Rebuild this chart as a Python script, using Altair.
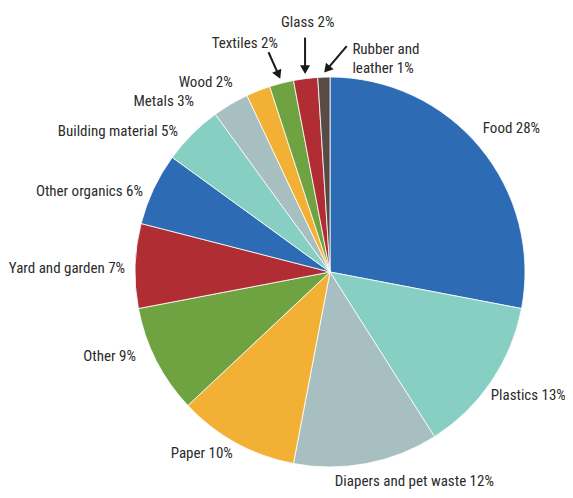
import math
import pandas as pd
import altair as alt

categories = ["Food", "Plastics", "Diapers and pet waste", "Paper", "Other",
              "Yard and garden", "Other organics", "Building material", "Metals",
              "Wood", "Textiles", "Glass", "Rubber and leather"]
shares = [28, 13, 12, 10, 9, 7, 6, 5, 3, 2, 2, 2, 1]
labels = ["Food 28%", "Plastics 13%", "Diapers and pet waste 12%", "Paper 10%",
          "Other 9%", "Yard and garden 7%", "Other organics 6%",
          "Building material 5%", "Metals 3%", "Wood 2%", "Textiles 2%",
          "Glass 2%", "Rubber and\nleather 1%"]
colors = ["#2e6bb5", "#87cfc3", "#a7bfc1", "#f2b134", "#6fa342", "#b02e33",
          "#2e6bb5", "#87cfc3", "#a7bfc1", "#f2b134", "#6fa342", "#b02e33",
          "#574b45"]

TOTAL = sum(shares)
CX, CY, R = 322, 264, 195
FONT = "Roboto Condensed, DejaVu Sans Condensed, sans-serif"
TXT = "#2b2b2b"

ends = []
acc = 0
for s in shares:
    acc += s
    ends.append(acc)
df = pd.DataFrame({"category": categories, "share": shares, "label": labels, "end": ends})
df["start"] = df["end"] - df["share"]
df["mid"] = df["end"] - df["share"] / 2

theta_scale = alt.Scale(domain=[0, TOTAL])

pie = alt.Chart(df).mark_arc(outerRadius=R, stroke="white", strokeWidth=0.8).encode(
    theta=alt.Theta("start:Q", scale=theta_scale),
    theta2="end:Q",
    color=alt.Color("category:N", scale=alt.Scale(domain=categories, range=colors), legend=None),
    x=alt.value(CX), y=alt.value(CY),
)

def label_layer(cat, align, dx, dy, radius=210):
    return alt.Chart(df).transform_filter(alt.datum.category == cat).mark_text(
        align=align, baseline="middle", dx=dx, dy=dy, radius=radius,
        font=FONT, fontSize=15, color=TXT, lineBreak="\n", lineHeight=19,
    ).encode(
        theta=alt.Theta("mid:Q", scale=theta_scale), text="label:N",
        x=alt.value(CX), y=alt.value(CY),
    )

placements = [
    ("Food", "left", -9, -10),
    ("Plastics", "left", -13, 5),
    ("Diapers and pet waste", "center", 45, 3),
    ("Paper", "right", 4, -3),
    ("Other", "right", -7, -11),
    ("Yard and garden", "right", 5, 3),
    ("Other organics", "right", 3, 8),
    ("Building material", "right", -3.5, 7.5),
    ("Metals", "right", -29, 10),
    ("Wood", "right", -20, 5),
    ("Textiles", "center", -33, -26),
    ("Glass", "center", 4, -42),
    ("Rubber and leather", "left", 29, -13.5),
]
text_layers = [label_layer(*p) for p in placements]

# arrows for the three small slices
arrow_tails = {"Textiles": (-12, -27), "Glass": (0, -37), "Rubber and leather": (23, -27)}
rows = []
for _, r in df.iterrows():
    if r["category"] not in arrow_tails:
        continue
    ang = 2 * math.pi * r["mid"] / TOTAL
    tx = CX + 199 * math.sin(ang)
    ty = CY - 199 * math.cos(ang)
    ox, oy = arrow_tails[r["category"]]
    L = math.hypot(ox, oy)
    ux, uy = -ox / L, -oy / L
    hx, hy = tx - 5 * ux, ty - 5 * uy
    rows.append({"x": tx + ox, "y": ty + oy, "hx": hx, "hy": hy,
                 "rot": math.degrees(math.atan2(-ux, uy)) % 360})
arr = pd.DataFrame(rows)

shafts = alt.Chart(arr).mark_rule(color="#1a1a1a", strokeWidth=2).encode(
    x=alt.X("x:Q", scale=None), y=alt.Y("y:Q", scale=None),
    x2="hx:Q", y2="hy:Q",
)
heads = alt.Chart(arr).mark_point(shape="triangle-down", filled=True, size=100,
                                  color="#1a1a1a", opacity=1).encode(
    x=alt.X("hx:Q", scale=None), y=alt.Y("hy:Q", scale=None),
    angle=alt.Angle("rot:Q", scale=None),
)

chart = alt.layer(pie, *text_layers, shafts, heads).properties(
    width=557, height=482, padding=0,
    autosize=alt.AutoSizeParams(type="none"),
).configure_view(stroke=None)

chart.save("out.html", embed_options={"renderer": "svg", "actions": False})
